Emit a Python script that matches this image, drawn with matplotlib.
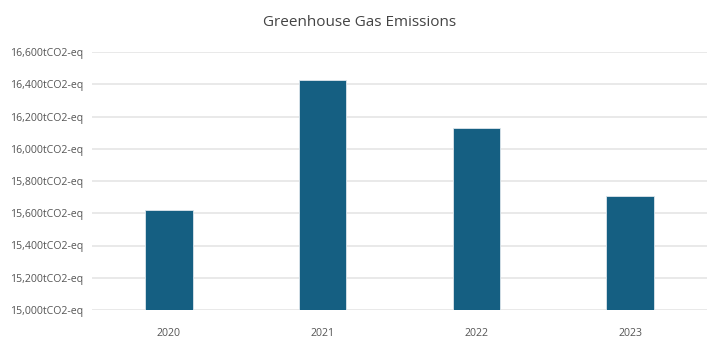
import matplotlib
matplotlib.use("Agg")
import matplotlib.pyplot as plt
from matplotlib.ticker import FuncFormatter

years = ["2020", "2021", "2022", "2023"]
emissions = [15618, 16428, 16130, 15706]
yticks = [15000, 15200, 15400, 15600, 15800, 16000, 16200, 16400, 16600]

plt.rcParams['font.family'] = ['Open Sans', 'DejaVu Sans']

fig = plt.figure(figsize=(7.2, 3.62), dpi=100)
ax = fig.add_axes([92 / 720, 1 - 310 / 362, 615 / 720, 258 / 362])

ax.bar(range(len(years)), emissions, width=0.31, color='#155f82',
       edgecolor='#dde6ec', linewidth=0.6, zorder=3)

ax.set_xlim(-0.5, len(years) - 0.5)
ax.set_ylim(15000, 16600)
ax.set_yticks(yticks)
ax.yaxis.set_major_formatter(FuncFormatter(lambda v, p: f"{int(v):,}tCO2-eq"))
ax.set_xticks(range(len(years)))
ax.set_xticklabels(years)

ax.grid(axis='y', color='#e3e3e3', linewidth=1.1, zorder=0)
for s in ax.spines.values():
    s.set_visible(False)
ax.tick_params(axis='both', length=0, colors='#555555', labelsize=7.6)
ax.tick_params(axis='y', pad=6.5)
ax.tick_params(axis='x', pad=13)

fig.suptitle("Greenhouse Gas Emissions", y=1 - 22 / 362, va='center',
             fontsize=11, color='#444444')

fig.savefig("out.png", dpi=100)
